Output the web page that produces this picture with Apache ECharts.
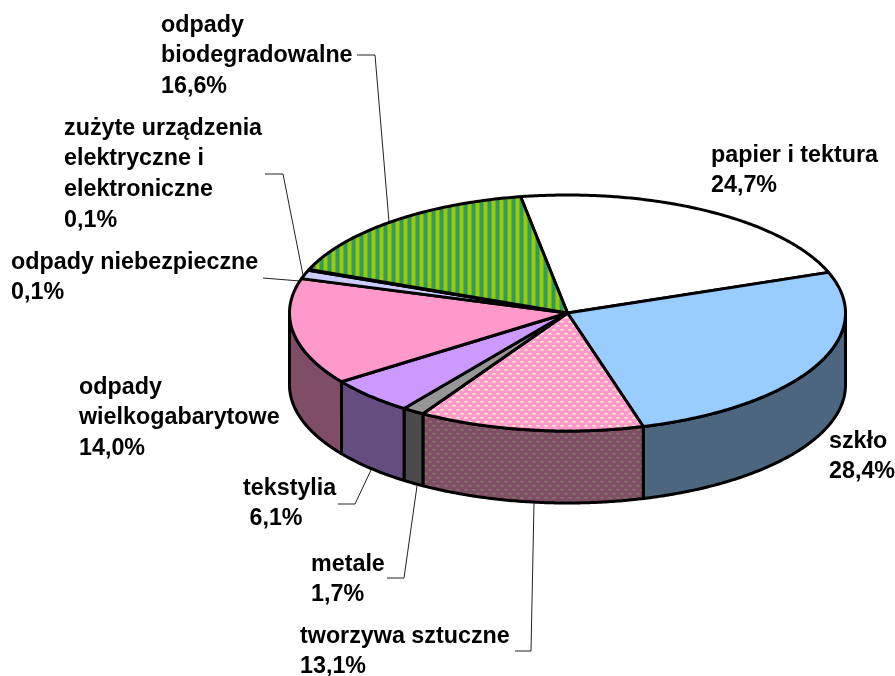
<!DOCTYPE html>
<html>
<head>
<meta charset="utf-8">
<style>
  html, body { margin: 0; padding: 0; background: #fff; }
  #chart { width: 895px; height: 676px; }
</style>
</head>
<body>
<div id="chart"></div>
<script src="https://cdn.jsdelivr.net/npm/echarts@6/dist/echarts.min.js"></script>
<script>
// clockwise from the back of the pie
const categories = ['papier i tektura', 'szkło', 'tworzywa sztuczne', 'metale', 'tekstylia',
  'odpady wielkogabarytowe', 'odpady niebezpieczne', 'zużyte urządzenia elektryczne i elektroniczne', 'odpady biodegradowalne']
// percentages printed on the labels
const printed = ['24,7%', '28,4%', '13,1%', '1,7%', '6,1%', '14,0%', '0,1%', '0,1%', '16,6%']
// slice sizes as drawn (the printed ones add up to 104,8)
const shares = [22.1, 26.2, 13.1, 1.3, 5.1, 14.6, 1.2, 0.1, 16.3]

const topColors = ['#ffffff', '#99ccff', 'dots', '#969696', '#cc99ff', '#ff99cc', '#ccccff', '#ccccff', 'stripes']
const sideColors = ['#808080', '#4d6680', 'darkdots', '#4b4b4b', '#664d80', '#804d66', '#666680', '#666680', '#4d6619']

const cx = 567.5, cy = 313, rx = 278, ry = 118, depth = 72
const startAngle = -9.7

function tile(w, h, bg, fg, draw) {
  const c = document.createElement('canvas')
  c.width = w
  c.height = h
  const ctx = c.getContext('2d')
  ctx.fillStyle = bg
  ctx.fillRect(0, 0, w, h)
  ctx.fillStyle = fg
  draw(ctx)
  return { image: c, repeat: 'repeat' }
}
function dots(ctx) {
  ctx.globalAlpha = 0.45
  ctx.fillRect(0, 1, 4, 2)
  ctx.fillRect(4, 5, 4, 2)
  ctx.globalAlpha = 1
  ctx.fillRect(1, 1, 2, 1)
  ctx.fillRect(5, 5, 2, 1)
}
function stripes(ctx) {
  ctx.fillRect(4, 0, 3, 2)
  ctx.globalAlpha = 0.5
  ctx.fillRect(3, 0, 1, 2)
  ctx.fillRect(7, 0, 1, 2)
}
const fills = {
  dots: tile(8, 8, '#ff99cc', '#ffffcc', dots),
  darkdots: tile(8, 8, '#804d66', '#808066', dots),
  stripes: tile(8, 2, '#339966', '#99cc00', stripes)
}
const fillOf = (name) => fills[name] || name

const total = shares.reduce((a, b) => a + b, 0)
const edges = [startAngle]
shares.forEach((v) => edges.push(edges[edges.length - 1] + v / total * 360))

// angle in degrees, clockwise from the top of the ellipse
function rim(deg, dy) {
  const a = deg * Math.PI / 180
  return [cx + rx * Math.sin(a), cy - ry * Math.cos(a) + dy]
}
function arc(from, to, dy) {
  const pts = []
  const n = Math.max(2, Math.ceil((to - from) * 2))
  for (let i = 0; i <= n; i++) pts.push(rim(from + (to - from) * i / n, dy))
  return pts
}
const outline = { stroke: '#000', lineWidth: 3, lineJoin: 'round' }

function renderTop(params) {
  const i = params.dataIndex
  const points = [[cx, cy]].concat(arc(edges[i], edges[i + 1], 0))
  return { type: 'polygon', shape: { points }, style: Object.assign({ fill: fillOf(topColors[i]) }, outline) }
}
function renderSide(params) {
  const i = params.dataIndex
  const from = Math.max(edges[i], 90)
  const to = Math.min(edges[i + 1], 270)
  if (to <= from) return null
  const points = arc(from, to, 0).concat(arc(from, to, depth).reverse())
  return { type: 'polygon', shape: { points }, style: Object.assign({ fill: fillOf(sideColors[i]) }, outline) }
}

const labelFont = { fontFamily: '"Liberation Sans", Arial, sans-serif', fontWeight: 'bold', fontSize: 23.3, lineHeight: 30.6, fill: '#000' }
const labels = [
  { text: 'papier i tektura\n' + printed[0], x: 711, y: 140 },
  { text: 'szkło\n' + printed[1], x: 829, y: 426 },
  { text: 'tworzywa sztuczne\n' + printed[2], x: 300, y: 621 },
  { text: 'metale\n' + printed[3], x: 311, y: 549 },
  { text: 'tekstylia\n ' + printed[4], x: 243, y: 473 },
  { text: 'odpady\nwielkogabarytowe\n' + printed[5], x: 79, y: 372 },
  { text: 'odpady niebezpieczne\n' + printed[6], x: 11, y: 247 },
  { text: 'zużyte urządzenia\nelektryczne i\nelektroniczne\n' + printed[7], x: 64, y: 113 },
  { text: 'odpady\nbiodegradowalne\n' + printed[8], x: 161, y: 10 }
]
const leaders = [
  [[515, 651], [531, 651], [534, 503]],
  [[387, 578], [404, 578], [417, 486]],
  [[338, 504], [355, 504], [371, 470]],
  [[263, 278], [300, 281]],
  [[265, 174], [283, 174], [303, 275]],
  [[357, 55], [375, 55], [389, 222]]
]

const chart = echarts.init(document.getElementById('chart'))
chart.setOption({
  animation: false,
  backgroundColor: '#fff',
  graphic: leaders.map((points) => ({
    type: 'polyline', shape: { points }, style: { stroke: '#222', lineWidth: 1, fill: null }, z: 1
  })).concat(labels.map((l) => ({
    type: 'text', x: l.x, y: l.y, style: Object.assign({ text: l.text }, labelFont), z: 1
  }))),
  series: [
    { type: 'custom', coordinateSystem: 'none', renderItem: renderSide, data: shares, z: 2, silent: true },
    { type: 'custom', coordinateSystem: 'none', renderItem: renderTop, data: shares, z: 3, silent: true }
  ]
})
</script>
</body>
</html>
